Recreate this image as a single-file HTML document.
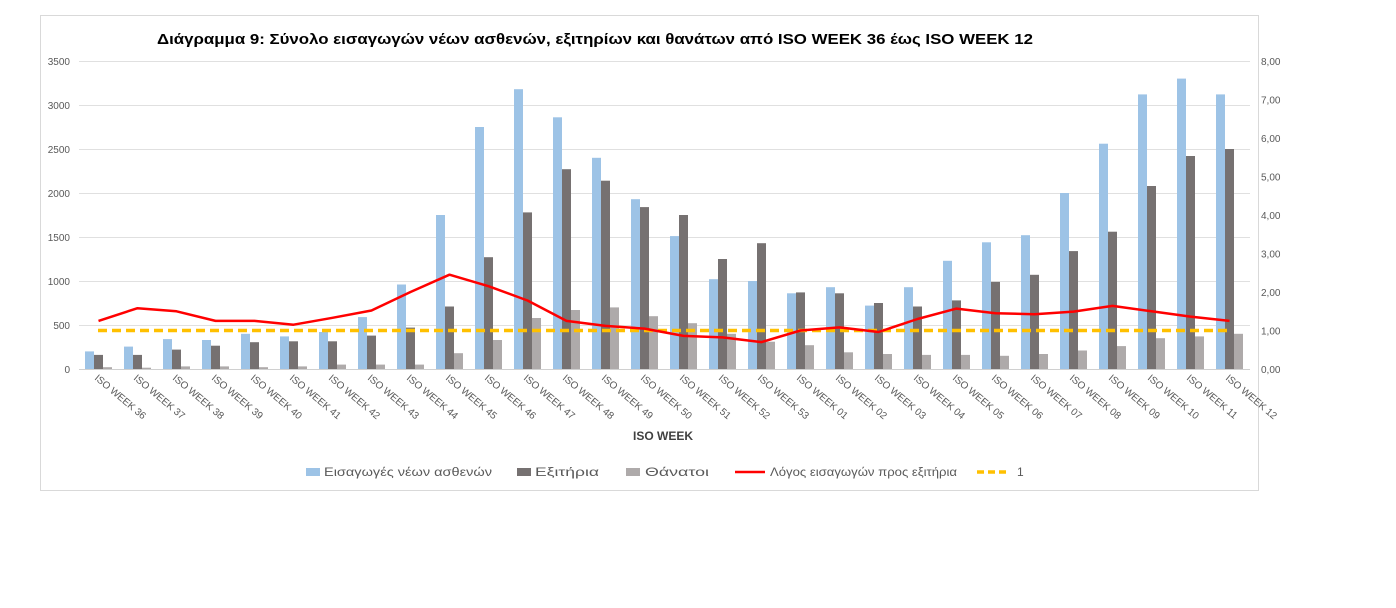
<!DOCTYPE html>
<html><head><meta charset="utf-8"><style>body{margin:0;background:#fff}svg{display:block}</style></head><body>
<svg width="1396" height="608" xmlns="http://www.w3.org/2000/svg" font-family="'Liberation Sans', sans-serif">
<rect x="40.5" y="15.5" width="1218" height="475" fill="#fff" stroke="#d9d9d9"/>
<text x="595" y="44" text-anchor="middle" font-size="15" font-weight="bold" fill="#000" textLength="876" lengthAdjust="spacingAndGlyphs">Διάγραμμα 9: Σύνολο εισαγωγών νέων ασθενών, εξιτηρίων και θανάτων από ISO WEEK 36 έως ISO WEEK 12</text>
<g stroke="#e0e0e0" stroke-width="1">
<line x1="79" x2="1250" y1="61.5" y2="61.5"/><line x1="79" x2="1250" y1="105.5" y2="105.5"/><line x1="79" x2="1250" y1="149.5" y2="149.5"/><line x1="79" x2="1250" y1="193.5" y2="193.5"/><line x1="79" x2="1250" y1="237.5" y2="237.5"/><line x1="79" x2="1250" y1="281.5" y2="281.5"/><line x1="79" x2="1250" y1="325.5" y2="325.5"/><line x1="79" x2="1250" y1="369.5" y2="369.5" stroke="#d0d0d0"/>
</g>
<g font-size="10" fill="#595959" text-anchor="end">
<text x="70" y="65">3500</text><text x="70" y="109">3000</text><text x="70" y="153">2500</text><text x="70" y="197">2000</text><text x="70" y="241">1500</text><text x="70" y="285">1000</text><text x="70" y="329">500</text><text x="70" y="373">0</text>
</g>
<g font-size="10" fill="#595959">
<text x="1261" y="65">8,00</text><text x="1261" y="103.5">7,00</text><text x="1261" y="142">6,00</text><text x="1261" y="180.5">5,00</text><text x="1261" y="219">4,00</text><text x="1261" y="257.5">3,00</text><text x="1261" y="296">2,00</text><text x="1261" y="334.5">1,00</text><text x="1261" y="373">0,00</text>
</g>
<g fill="#9dc3e6">
<rect x="85" y="351.4" width="9" height="17.6"/><rect x="124" y="346.6" width="9" height="22.4"/><rect x="163" y="339.1" width="9" height="29.9"/><rect x="202" y="340" width="9" height="29"/><rect x="241" y="333.8" width="9" height="35.2"/><rect x="280" y="336.4" width="9" height="32.6"/><rect x="319" y="332" width="9" height="37"/><rect x="358" y="317.1" width="9" height="51.9"/><rect x="397" y="284.5" width="9" height="84.5"/><rect x="436" y="215" width="9" height="154"/><rect x="475" y="127" width="9" height="242"/><rect x="514" y="89.2" width="9" height="279.8"/><rect x="553" y="117.3" width="9" height="251.7"/><rect x="592" y="157.8" width="9" height="211.2"/><rect x="631" y="199.2" width="9" height="169.8"/><rect x="670" y="236.1" width="9" height="132.9"/><rect x="709" y="279.2" width="9" height="89.8"/><rect x="748" y="281" width="9" height="88"/><rect x="787" y="293.3" width="9" height="75.7"/><rect x="826" y="287.2" width="9" height="81.8"/><rect x="865" y="305.6" width="9" height="63.4"/><rect x="904" y="287.2" width="9" height="81.8"/><rect x="943" y="260.8" width="9" height="108.2"/><rect x="982" y="242.3" width="9" height="126.7"/><rect x="1021" y="235.2" width="9" height="133.8"/><rect x="1060" y="193" width="9" height="176"/><rect x="1099" y="143.7" width="9" height="225.3"/><rect x="1138" y="94.4" width="9" height="274.6"/><rect x="1177" y="78.6" width="9" height="290.4"/><rect x="1216" y="94.4" width="9" height="274.6"/>
</g>
<g fill="#767171">
<rect x="94" y="354.9" width="9" height="14.1"/><rect x="133" y="354.9" width="9" height="14.1"/><rect x="172" y="349.6" width="9" height="19.4"/><rect x="211" y="345.7" width="9" height="23.3"/><rect x="250" y="342.2" width="9" height="26.8"/><rect x="289" y="341.3" width="9" height="27.7"/><rect x="328" y="341.3" width="9" height="27.7"/><rect x="367" y="335.6" width="9" height="33.4"/><rect x="406" y="327.6" width="9" height="41.4"/><rect x="445" y="306.5" width="9" height="62.5"/><rect x="484" y="257.2" width="9" height="111.8"/><rect x="523" y="212.4" width="9" height="156.6"/><rect x="562" y="169.2" width="9" height="199.8"/><rect x="601" y="180.7" width="9" height="188.3"/><rect x="640" y="207.1" width="9" height="161.9"/><rect x="679" y="215" width="9" height="154"/><rect x="718" y="259" width="9" height="110"/><rect x="757" y="243.2" width="9" height="125.8"/><rect x="796" y="292.4" width="9" height="76.6"/><rect x="835" y="293.3" width="9" height="75.7"/><rect x="874" y="303" width="9" height="66"/><rect x="913" y="306.5" width="9" height="62.5"/><rect x="952" y="300.4" width="9" height="68.6"/><rect x="991" y="281.9" width="9" height="87.1"/><rect x="1030" y="274.8" width="9" height="94.2"/><rect x="1069" y="251.1" width="9" height="117.9"/><rect x="1108" y="231.7" width="9" height="137.3"/><rect x="1147" y="186" width="9" height="183"/><rect x="1186" y="156" width="9" height="213"/><rect x="1225" y="149" width="9" height="220"/>
</g>
<g fill="#aeaaaa">
<rect x="103" y="367.2" width="9" height="1.8"/><rect x="142" y="367.7" width="9" height="1.3"/><rect x="181" y="366.4" width="9" height="2.6"/><rect x="220" y="366.4" width="9" height="2.6"/><rect x="259" y="367.2" width="9" height="1.8"/><rect x="298" y="366.4" width="9" height="2.6"/><rect x="337" y="364.6" width="9" height="4.4"/><rect x="376" y="364.6" width="9" height="4.4"/><rect x="415" y="364.6" width="9" height="4.4"/><rect x="454" y="353.2" width="9" height="15.8"/><rect x="493" y="340" width="9" height="29"/><rect x="532" y="318" width="9" height="51"/><rect x="571" y="310" width="9" height="59"/><rect x="610" y="307.4" width="9" height="61.6"/><rect x="649" y="316.2" width="9" height="52.8"/><rect x="688" y="323.2" width="9" height="45.8"/><rect x="727" y="333.8" width="9" height="35.2"/><rect x="766" y="341.7" width="9" height="27.3"/><rect x="805" y="345.2" width="9" height="23.8"/><rect x="844" y="352.3" width="9" height="16.7"/><rect x="883" y="354" width="9" height="15"/><rect x="922" y="354.9" width="9" height="14.1"/><rect x="961" y="354.9" width="9" height="14.1"/><rect x="1000" y="355.8" width="9" height="13.2"/><rect x="1039" y="354" width="9" height="15"/><rect x="1078" y="350.5" width="9" height="18.5"/><rect x="1117" y="346.1" width="9" height="22.9"/><rect x="1156" y="338.2" width="9" height="30.8"/><rect x="1195" y="336.4" width="9" height="32.6"/><rect x="1234" y="333.8" width="9" height="35.2"/>
</g>
<line x1="98" x2="1230" y1="330.5" y2="330.5" stroke="#ffc000" stroke-width="3.5" stroke-dasharray="9,5"/>
<polyline fill="none" stroke="#ff0000" stroke-width="2.5" stroke-linejoin="round" points="98.5,320.9 137.5,308.2 176.5,311.3 215.5,320.9 254.5,320.9 293.5,324.7 332.5,317.8 371.5,310.5 410.5,292 449.5,274.7 488.5,286.2 527.5,300.5 566.5,320.9 605.5,325.9 644.5,328.6 683.5,335.9 722.5,337.4 761.5,342.1 800.5,330.5 839.5,327.4 878.5,332 917.5,319 956.5,308.6 995.5,313.2 1034.5,314.3 1073.5,311.6 1112.5,305.9 1151.5,311.3 1190.5,316.6 1229.5,320.9"/>
<g font-size="10" fill="#595959">
<text transform="translate(94,379) rotate(40)">ISO WEEK 36</text>
<text transform="translate(133,379) rotate(40)">ISO WEEK 37</text>
<text transform="translate(172,379) rotate(40)">ISO WEEK 38</text>
<text transform="translate(211,379) rotate(40)">ISO WEEK 39</text>
<text transform="translate(250,379) rotate(40)">ISO WEEK 40</text>
<text transform="translate(289,379) rotate(40)">ISO WEEK 41</text>
<text transform="translate(328,379) rotate(40)">ISO WEEK 42</text>
<text transform="translate(367,379) rotate(40)">ISO WEEK 43</text>
<text transform="translate(406,379) rotate(40)">ISO WEEK 44</text>
<text transform="translate(445,379) rotate(40)">ISO WEEK 45</text>
<text transform="translate(484,379) rotate(40)">ISO WEEK 46</text>
<text transform="translate(523,379) rotate(40)">ISO WEEK 47</text>
<text transform="translate(562,379) rotate(40)">ISO WEEK 48</text>
<text transform="translate(601,379) rotate(40)">ISO WEEK 49</text>
<text transform="translate(640,379) rotate(40)">ISO WEEK 50</text>
<text transform="translate(679,379) rotate(40)">ISO WEEK 51</text>
<text transform="translate(718,379) rotate(40)">ISO WEEK 52</text>
<text transform="translate(757,379) rotate(40)">ISO WEEK 53</text>
<text transform="translate(796,379) rotate(40)">ISO WEEK 01</text>
<text transform="translate(835,379) rotate(40)">ISO WEEK 02</text>
<text transform="translate(874,379) rotate(40)">ISO WEEK 03</text>
<text transform="translate(913,379) rotate(40)">ISO WEEK 04</text>
<text transform="translate(952,379) rotate(40)">ISO WEEK 05</text>
<text transform="translate(991,379) rotate(40)">ISO WEEK 06</text>
<text transform="translate(1030,379) rotate(40)">ISO WEEK 07</text>
<text transform="translate(1069,379) rotate(40)">ISO WEEK 08</text>
<text transform="translate(1108,379) rotate(40)">ISO WEEK 09</text>
<text transform="translate(1147,379) rotate(40)">ISO WEEK 10</text>
<text transform="translate(1186,379) rotate(40)">ISO WEEK 11</text>
<text transform="translate(1225,379) rotate(40)">ISO WEEK 12</text>
</g>
<text x="663" y="440" text-anchor="middle" font-size="12" font-weight="bold" fill="#404040">ISO WEEK</text>
<g font-size="12" fill="#595959">
<rect x="306" y="468" width="14" height="8" fill="#9dc3e6"/><text x="324" y="476" textLength="168" lengthAdjust="spacingAndGlyphs">Εισαγωγές νέων ασθενών</text>
<rect x="517" y="468" width="14" height="8" fill="#767171"/><text x="535" y="476" textLength="64" lengthAdjust="spacingAndGlyphs">Εξιτήρια</text>
<rect x="626" y="468" width="14" height="8" fill="#aeaaaa"/><text x="645" y="476" textLength="64" lengthAdjust="spacingAndGlyphs">Θάνατοι</text>
<line x1="735" x2="765" y1="472" y2="472" stroke="#ff0000" stroke-width="2.5"/><text x="770" y="476" textLength="187" lengthAdjust="spacingAndGlyphs">Λόγος εισαγωγών προς εξιτήρια</text>
<line x1="977" x2="1010" y1="472" y2="472" stroke="#ffc000" stroke-width="3.5" stroke-dasharray="7,4"/><text x="1017" y="476">1</text>
</g>
</svg>
</body></html>
